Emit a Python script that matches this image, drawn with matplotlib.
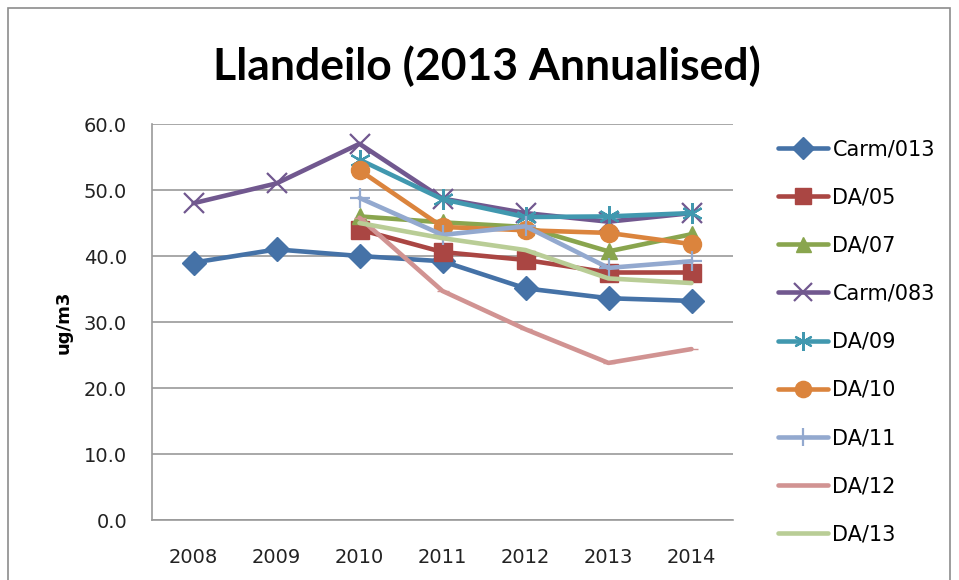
import matplotlib
matplotlib.use("Agg")
import matplotlib.pyplot as plt
from matplotlib.patches import Rectangle

years = [2008, 2009, 2010, 2011, 2012, 2013, 2014]
series_names = ["Carm/013", "DA/05", "DA/07", "Carm/083", "DA/09", "DA/10", "DA/11", "DA/12", "DA/13"]
carm013 = [39.0, 41.0, 40.0, 39.2, 35.1, 33.6, 33.2]
da05 = [None, None, 44.0, 40.6, 39.4, 37.5, 37.5]
da07 = [None, None, 46.0, 45.1, 44.4, 40.7, 43.3]
carm083 = [48.0, 51.0, 57.0, 48.7, 46.5, 45.2, 46.5]
da09 = [None, None, 54.6, 48.6, 45.9, 46.0, 46.5]
da10 = [None, None, 53.0, 44.4, 43.9, 43.5, 41.8]
da11 = [None, None, 48.8, 43.2, 44.5, 38.2, 39.2]
da12 = [None, None, 45.8, 34.7, 28.9, 23.8, 25.9]
da13 = [None, None, 45.0, 42.7, 40.9, 36.6, 35.9]
yticks = [0, 10, 20, 30, 40, 50, 60]

data = [carm013, da05, da07, carm083, da09, da10, da11, da12, da13]
colors = ["#4572A7", "#AA4643", "#89A54E", "#71588F", "#4198AF", "#DB843D", "#93A9CF", "#D19392", "#B9CD96"]
markers = ["D", "s", "^", "x", (6, 2, 0), "o", "+", "_", None]
msizes = [12, 13, 12, 15, 15, 13, 15, 8, 0]

fig = plt.figure(figsize=(9.59, 5.8), dpi=100)
fig.patches.append(Rectangle((8/959, -0.02), 942/959, 1.0 - 8/580 + 0.02, transform=fig.transFigure,
                             fill=False, edgecolor="#8C8C8C", linewidth=1.2))
ax = fig.add_axes([152/959, 1 - 520/580, (733-152)/959, (520-124)/580])

for name, vals, c, m, ms in zip(series_names, data, colors, markers, msizes):
    xs = [x for x, v in zip(years, vals) if v is not None]
    ys = [v for v in vals if v is not None]
    kw = {}
    if m in ("x", "+") or isinstance(m, tuple):
        kw["markeredgewidth"] = 1.6
    ax.plot(xs, ys, color=c, linewidth=3.3, marker=m if m else "None", markersize=ms,
            markerfacecolor=c, markeredgecolor=c, label=name, solid_capstyle="round", **kw)

ax.set_xlim(2007.5, 2014.5)
ax.set_ylim(0, 60)
ax.set_yticks(yticks)
ax.set_yticklabels([f"{v:.1f}" for v in yticks])
ax.set_xticks(years)
ax.set_xticklabels([str(y) for y in years])
ax.yaxis.grid(True, color="#9A9A9A", linewidth=1.2)
ax.set_axisbelow(True)
for s in ["top", "right"]:
    ax.spines[s].set_visible(False)
for s in ["left", "bottom"]:
    ax.spines[s].set_color("#9A9A9A")
    ax.spines[s].set_linewidth(1.2)
ax.tick_params(axis="both", labelsize=14, colors="#333333", length=0)
ax.tick_params(axis="y", pad=18)
ax.tick_params(axis="x", pad=20)
for lbl in ax.get_xticklabels() + ax.get_yticklabels():
    lbl.set_color("#222222")
ax.set_ylabel("ug/m3", fontsize=13, fontweight="bold", labelpad=8)

fig.text(487/959, 1 - 66/580, "Llandeilo (2013 Annualised)", ha="center", va="center",
         fontsize=32, fontweight="bold", family="Lato")

leg = ax.legend(loc="upper left", bbox_to_anchor=(770/959, 1 - 131/580), bbox_transform=fig.transFigure,
                frameon=False, fontsize=15, labelspacing=1.35, handlelength=2.4, handletextpad=0.2,
                borderaxespad=0, markerscale=0.9)

fig.savefig("out.png", dpi=100)
